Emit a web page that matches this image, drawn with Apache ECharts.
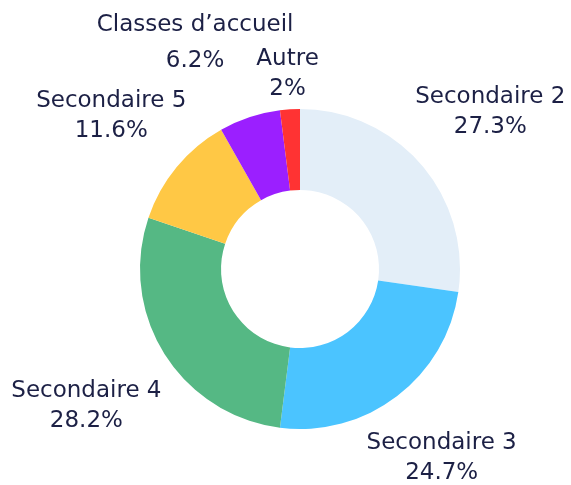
<!DOCTYPE html>
<html>
<head>
<meta charset="utf-8">
<script src="https://cdn.jsdelivr.net/npm/echarts@6/dist/echarts.min.js"></script>
<style>
    html, body { margin: 0; padding: 0; background: #fff; }
    #main { width: 571px; height: 485px; }
</style>
</head>
<body>
<div id="main"></div>
<script type="text/javascript">
    // 数据
    var categories = ['Secondaire 2', 'Secondaire 3', 'Secondaire 4', 'Secondaire 5', 'Classes d’accueil', 'Autre'];
    var values = [27.3, 24.7, 28.2, 11.6, 6.2, 2];
    var colors = ['#e3eef8', '#4bc4ff', '#55b884', '#ffc845', '#9b1fff', '#ff3333'];

    var pieData = [];
    for (var i = 0; i < categories.length; i++) {
        pieData.push({ name: categories[i], value: values[i], itemStyle: { color: colors[i] } });
    }
    // 个别标签的距离单独调整
    pieData[0].labelLine = { length: 85, length2: 5 };
    pieData[1].labelLine = { length: 74 };
    pieData[2].labelLine = { length: 92 };
    pieData[4].labelLine = { length: 81, length2: 29 };
    pieData[4].label = { lineHeight: 36 };
    pieData[5].labelLine = { length: 38 };

    var myChart = echarts.init(document.getElementById('main'));
    var option = {
        animation: false,
        series: [
            {
                type: 'pie',
                center: [300, 269],
                radius: [79, 160],
                startAngle: 90,
                clockwise: true,
                avoidLabelOverlap: false,
                label: {
                    show: true,
                    position: 'outside',
                    fontFamily: 'DejaVu Sans',
                    fontSize: 23,
                    lineHeight: 30,
                    color: '#1c2045',
                    formatter: function (p) {
                        return p.name + '\n' + p.value + '%';
                    }
                },
                labelLine: { show: true, length: 85, length2: 0, lineStyle: { opacity: 0 } },
                // 标签居中放在引导线末端
                labelLayout: function (params) {
                    var pts = params.labelLinePoints;
                    if (!pts) return {};
                    return {
                        x: pts[2][0],
                        y: pts[2][1],
                        dy: 3,
                        align: 'center',
                        verticalAlign: 'middle'
                    };
                },
                data: pieData
            }
        ]
    };
    myChart.setOption(option);
</script>
</body>
</html>
